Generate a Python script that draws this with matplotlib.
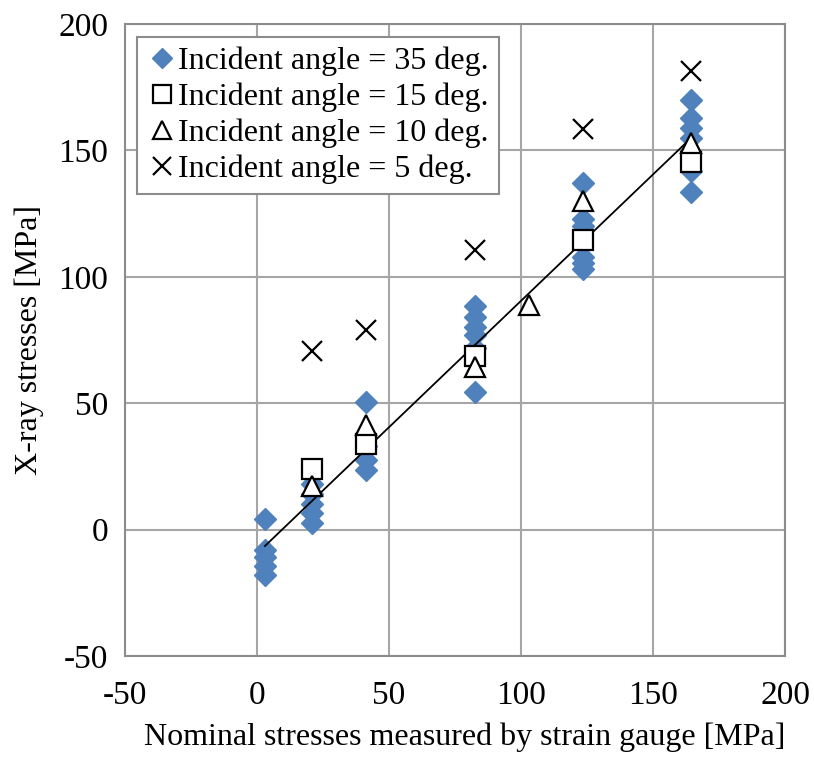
import matplotlib.pyplot as plt

plt.rcParams['font.family'] = ['Liberation Serif', 'DejaVu Serif']
plt.rcParams['axes.unicode_minus'] = False

# Nominal stress (strain gauge) for each loading step
nominal = [3, 20.8, 41.3, 82.6, 123.5, 164.5]

# Incident angle 35 deg: several readings per loading step
x35 = ([3] * 5 + [20.8] * 5 + [41.3] * 4 + [82.6] * 6 + [123.5] * 6 + [164.5] * 6)
y35 = [4, -8, -11, -14.5, -18,
       18, 14, 10, 6.5, 2.5,
       50.5, 33, 27.5, 23.5,
       88.5, 84, 80, 77, 72, 54.5,
       137, 123, 120, 108, 105.5, 103,
       170, 163, 159, 155, 142, 133.5]

# Incident angle 15 deg
x15 = [20.8, 41.3, 82.6, 123.5, 164.5]
y15 = [24, 34, 68.5, 114.5, 145.5]

# Incident angle 10 deg
x10 = [20.8, 41.3, 82.6, 103, 123.5, 164.5]
y10 = [17.4, 41.5, 64.5, 89, 130, 153]

# Incident angle 5 deg
x5 = [20.8, 41.3, 82.6, 123.5, 164.5]
y5 = [70.7, 79, 110.5, 158.5, 181.5]

# Reference line
line_x = [3, 164.5]
line_y = [-6.5, 155]

fig = plt.figure(figsize=(8.14, 7.58), dpi=100)
ax = fig.add_axes([0.1536, 0.1346, 0.8108, 0.8337])

ax.plot(line_x, line_y, color='black', lw=1.3, zorder=3)
ax.plot(x35, y35, 'D', ms=11, color='#4F81BD', mec='#4F81BD', lw=0,
        label='Incident angle = 35 deg.', zorder=2)
ax.plot(x15, y15, 's', ms=14, mfc='white', mec='black', mew=1.6, lw=0,
        label='Incident angle = 15 deg.', zorder=4)
ax.plot(x10, y10, '^', ms=14, mfc='white', mec='black', mew=1.6, lw=0,
        label='Incident angle = 10 deg.', zorder=5)
ax.plot(x5, y5, 'x', ms=14, color='black', mew=1.6, lw=0,
        label='Incident angle = 5 deg.', zorder=5)

ax.set_xlim(-50, 200)
ax.set_ylim(-50, 200)
ax.set_xticks(range(-50, 201, 50))
ax.set_yticks(range(-50, 201, 50))
ax.grid(True, color='#A6A6A6', lw=1.5)
ax.set_axisbelow(True)
ax.tick_params(length=0, labelsize=24)
ax.tick_params(axis='x', pad=18)
ax.tick_params(axis='y', pad=12)
for s in ax.spines.values():
    s.set_color('#8C8C8C')
    s.set_linewidth(1.5)

ax.set_xlabel('Nominal stresses measured by strain gauge [MPa]', fontsize=23)
ax.xaxis.set_label_coords(0.515, -0.105)
ax.set_ylabel('X-ray stresses [MPa]', fontsize=23, labelpad=10)

leg = ax.legend(loc='upper left', bbox_to_anchor=(0.018, 0.979), fontsize=23,
                handletextpad=0.0, handlelength=1.0, borderpad=0.3,
                labelspacing=0.2, fancybox=False, framealpha=1,
                edgecolor='#8C8C8C', borderaxespad=0)
leg.get_frame().set_linewidth(1.5)
for h in leg.legend_handles:
    h.set_markersize(h.get_markersize() * 0.9)

fig.savefig('out.png', dpi=100)
